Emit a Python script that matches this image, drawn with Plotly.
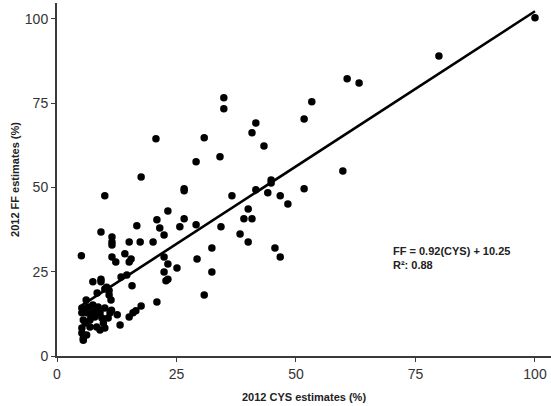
import plotly.graph_objects as go

cys = [100, 79.9, 60.7, 63.2, 34.9, 34.9, 53.3, 51.7, 41.6, 40.8,
       20.7, 30.8, 43.3, 29.1, 34.1, 59.8, 17.6, 44.8, 44.8, 41.6,
       51.7, 36.6, 44.1, 46.7, 48.3, 40.0, 39.1, 40.8, 34.3, 38.3,
       40.0, 32.4, 45.6, 46.7, 32.4, 30.8, 10.0, 26.6, 26.6, 23.2,
       20.9, 21.5, 22.4, 26.6, 25.7, 29.1, 16.7, 9.2, 11.5, 11.5,
       11.5, 15.1, 17.4, 20.1, 5.1, 11.5, 12.3, 14.2, 15.5, 15.1,
       22.4, 23.2, 25.1, 29.3, 22.4, 23.2, 22.8, 20.9, 17.6, 16.5,
       15.9, 15.1, 15.7, 9.2, 9.2, 7.5, 13.4, 14.6, 12.6, 13.2,
       10.0, 10.9, 11.3, 8.4, 10.4, 10.9,
       6.1, 7.5, 5.2, 5.2, 6.2, 7.6, 8.6, 9.0, 7.9, 9.4,
       9.7, 10.0, 6.9, 5.5, 5.2, 5.2, 5.5, 6.2, 6.9, 8.3,
       9.0, 5.9, 11.1, 10.7, 11.4, 10.0, 6.5, 5.5, 8.0, 7.0]
ff = [100.3, 89.0, 82.2, 81.0, 76.6, 73.3, 75.4, 70.3, 69.1, 66.2,
      64.4, 64.7, 62.3, 57.6, 59.1, 54.9, 53.1, 52.2, 51.3, 49.3,
      49.6, 47.5, 48.4, 47.5, 45.1, 43.6, 40.7, 40.7, 38.3, 36.2,
      33.8, 32.0, 32.0, 29.4, 24.9, 18.1, 47.5, 49.6, 49.0, 43.0,
      40.4, 38.0, 35.9, 40.7, 38.3, 38.9, 38.6, 36.8, 35.3, 33.8,
      32.9, 33.8, 33.8, 33.8, 29.7, 29.4, 27.9, 30.3, 28.8, 27.9,
      29.4, 27.3, 26.1, 28.8, 24.9, 22.8, 22.3, 16.0, 14.8, 13.4,
      12.8, 11.6, 20.8, 22.8, 22.0, 22.0, 23.4, 24.0, 12.2, 9.2,
      19.9, 18.1, 16.6, 18.7, 20.4, 19.4,
      16.6, 15.1, 14.2, 12.8, 12.8, 13.1, 14.5, 12.8, 11.6, 11.3,
      9.8, 8.3, 10.7, 10.7, 8.3, 6.8, 5.3, 6.2, 8.6, 8.6,
      7.7, 9.8, 12.8, 11.3, 13.6, 14.2, 14.5, 4.7, 12.0, 12.3]

slope = 0.92
intercept = 10.25
r2 = 0.88

x_ticks = [0, 25, 50, 75, 100]
y_ticks = [0, 25, 50, 75, 100]

fit_x = [min(cys), max(cys)]
fit_y = [slope * v + intercept for v in fit_x]

fig = go.Figure()
fig.add_trace(go.Scatter(x=cys, y=ff, mode="markers",
                         marker=dict(color="black", size=7.5),
                         showlegend=False, hoverinfo="skip"))
fig.add_trace(go.Scatter(x=fit_x, y=fit_y, mode="lines",
                         line=dict(color="black", width=2.6),
                         showlegend=False, hoverinfo="skip"))

fig.add_annotation(x=0.677, y=0.235, xref="paper", yref="paper",
                   xanchor="left", yanchor="bottom", align="left",
                   text=f"<b>FF = {slope}(CYS) + {intercept}</b><br><b>R²: {r2}</b>",
                   showarrow=False,
                   font=dict(family="Liberation Sans", size=11, color="#222"))

axis_common = dict(showline=True, linecolor="#3a3a3a", linewidth=2,
                   ticks="outside", ticklen=4, tickwidth=1.2, tickcolor="#3a3a3a",
                   showgrid=False, zeroline=False,
                   tickfont=dict(family="Liberation Sans", size=14, color="#333"))

fig.update_layout(
    width=551, height=406,
    margin=dict(l=57, r=0, t=3, b=50),
    plot_bgcolor="white", paper_bgcolor="white",
    xaxis=dict(range=[0, 103.35], tickvals=x_ticks,
               title=dict(text="<b>2012 CYS estimates (%)</b>", standoff=13,
                          font=dict(family="Liberation Sans", size=11, color="#222")),
               **axis_common),
    yaxis=dict(range=[0, 104.7], tickvals=y_ticks,
               title=dict(text="<b>2012 FF estimates (%)</b>", standoff=3,
                          font=dict(family="Liberation Sans", size=11, color="#222")),
               **axis_common),
)

fig.write_html("out.html")
